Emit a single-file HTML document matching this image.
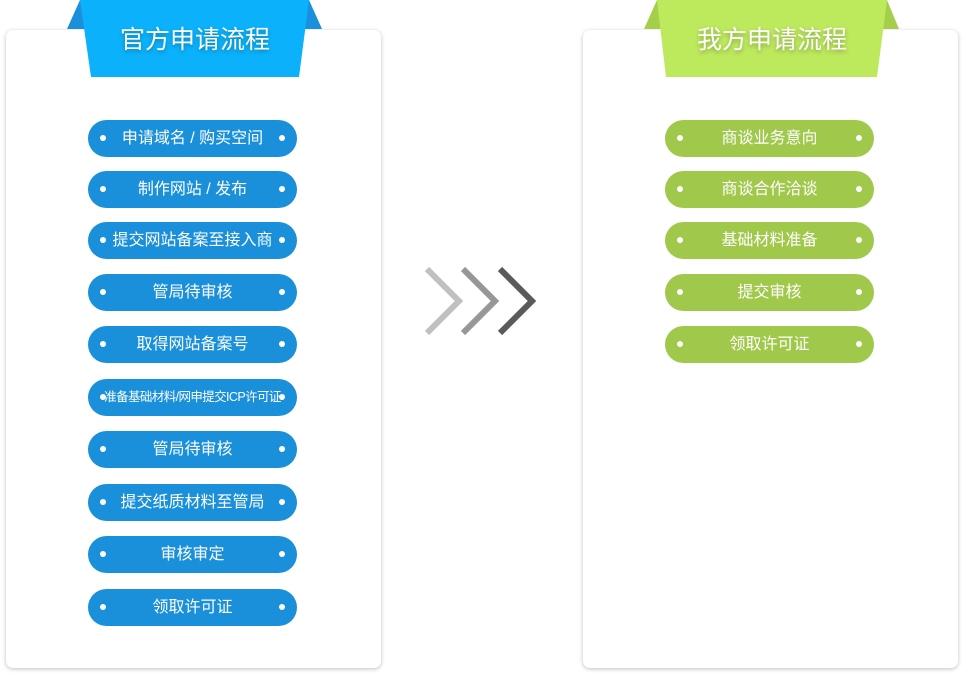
<!DOCTYPE html>
<html><head><meta charset="utf-8"><style>
html,body{margin:0;padding:0;background:#fff;width:964px;height:675px;overflow:hidden;position:relative;font-family:"Liberation Sans","Noto Sans CJK SC",sans-serif}
.card{position:absolute;top:30px;width:375px;height:638px;background:#fff;border-radius:7px;box-shadow:0 1px 4px rgba(0,0,0,.25)}
.pill{position:absolute;width:209px;height:37px;border-radius:19px;color:#fff;font-size:16px;line-height:37px;text-align:center;white-space:nowrap}
.pill:before,.pill:after{content:"";position:absolute;top:15px;width:6px;height:6px;border-radius:3px;background:#fff}
.pill:before{left:12px}.pill:after{right:12px}
.b{background:#1a90da;left:88px}
.g{background:#a0c84b;left:665px}
.t{position:absolute;top:20px;font-size:25px;color:#fff;text-shadow:0 2px 4px rgba(0,0,0,.3);text-align:center;width:230px}
</style></head><body>
<div class="card" style="left:6px"></div>
<div class="card" style="left:583px"></div>
<svg width="964" height="675" style="position:absolute;left:0;top:0">
<polygon points="80,0 67,29 322,29 309,0" fill="#1a8fdb"/>
<polygon points="80,0 309,0 299,77 91,77" fill="#0bb2fb"/>
<polygon points="657,0 644,29 899,29 887,0" fill="#a5cf4b"/>
<polygon points="657,0 887,0 877,77 666,77" fill="#bde95d"/>
<g fill="none" stroke-width="6" stroke-linecap="butt">
<polyline points="427,269 459,301 427,333" stroke="#c0c0c0"/>
<polyline points="463,269 495,301 463,333" stroke="#979797"/>
<polyline points="500,269 532,301 500,333" stroke="#5a5a5a"/>
</g>
</svg>
<div class="t" style="left:80px">官方申请流程</div>
<div class="t" style="left:657px">我方申请流程</div>
<div class="pill b" style="top:120px">申请域名 / 购买空间</div>
<div class="pill b" style="top:171px">制作网站 / 发布</div>
<div class="pill b" style="top:222px">提交网站备案至接入商</div>
<div class="pill b" style="top:274px">管局待审核</div>
<div class="pill b" style="top:326px">取得网站备案号</div>
<div class="pill b" style="top:379px;font-size:12.5px;letter-spacing:-0.6px">准备基础材料/网申提交ICP许可证</div>
<div class="pill b" style="top:431px">管局待审核</div>
<div class="pill b" style="top:484px">提交纸质材料至管局</div>
<div class="pill b" style="top:536px">审核审定</div>
<div class="pill b" style="top:589px">领取许可证</div>
<div class="pill g" style="top:120px">商谈业务意向</div>
<div class="pill g" style="top:171px">商谈合作洽谈</div>
<div class="pill g" style="top:222px">基础材料准备</div>
<div class="pill g" style="top:274px">提交审核</div>
<div class="pill g" style="top:326px">领取许可证</div>
</body></html>
